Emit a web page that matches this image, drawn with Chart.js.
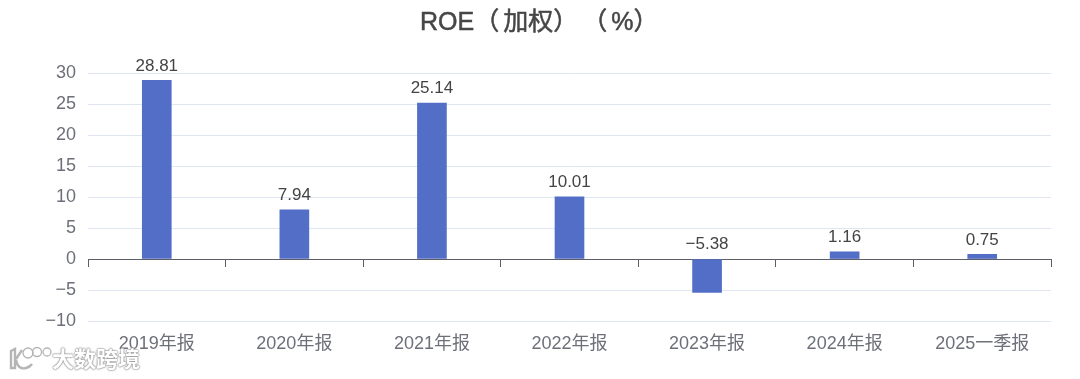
<!DOCTYPE html>
<html><head><meta charset="utf-8">
<style>
html,body{margin:0;padding:0;background:#fff;width:1080px;height:379px;overflow:hidden}
#w{position:relative;width:1080px;height:379px}
#wm{position:absolute;left:52px;top:342px;font:700 22px "Noto Sans CJK SC";color:#fff;line-height:30px;
text-shadow:0 0 1.5px #8a8a8a,0 0 1.5px #8a8a8a,0 0 2px #a8a8a8}
#lg{position:absolute;left:8px;top:346px}
</style>
<script src="https://cdn.jsdelivr.net/npm/chart.js@4/dist/chart.umd.min.js"></script>
</head><body><div id="w"><canvas id="c" width="1080" height="379"></canvas>
<svg id="lg" width="44" height="26" fill="none" stroke="#b5b5b5" stroke-width="1.3"><path d="M3 5 L7 3 L7 22 L3 22 Z M8 13 L14 4 M8 14 Q10 24 18 22 Q22 21 24 18" stroke-width="2.4"/><circle cx="20" cy="7" r="5"/><circle cx="29" cy="6" r="4.5"/><circle cx="39" cy="6" r="4"/></svg>
<div id="wm">大数跨境</div></div>
<script>
const categories=["2019年报","2020年报","2021年报","2022年报","2023年报","2024年报","2025一季报"];
const roeValues=[28.81,7.94,25.14,10.01,-5.38,1.16,0.75];
const titleText="ROE（加权）（%）";
const yMin=-10,yMax=30,yStep=5;
const FF='"Liberation Sans","Noto Sans CJK SC",sans-serif';
const minus=s=>String(s).replace('-','\u2212');
const chartTitle={id:'chartTitle',afterDraw(ch){
  const g=ch.ctx;g.save();g.font='25px '+FF;g.fillStyle='#464646';g.strokeStyle='#464646';g.lineWidth=0.5;
  g.textAlign='left';g.textBaseline='alphabetic';
  let x=420;for(const c of Array.from(titleText)){g.fillText(c,x,30);g.strokeText(c,x,30);x+=g.measureText(c).width+('（）'.includes(c)?4:0);}
  g.restore();}};
const valueLabels={id:'valueLabels',afterDatasetsDraw(ch){
  const g=ch.ctx,m=ch.getDatasetMeta(0),ys=ch.scales.y;
  g.save();g.font='17px '+FF;g.fillStyle='#444';g.textAlign='center';g.textBaseline='bottom';
  m.data.forEach((b,i)=>{const v=roeValues[i];
    g.fillText(minus(v.toFixed(2)),b.x,Math.min(ys.getPixelForValue(v),ys.getPixelForValue(0))-6);});
  g.restore();}};
new Chart(document.getElementById('c'),{type:'bar',
 data:{labels:categories,datasets:[{data:roeValues,backgroundColor:'#536ec6',barThickness:29,xAxisID:'x',yAxisID:'y'}]},
 options:{responsive:false,animation:false,devicePixelRatio:1,
  layout:{padding:{top:73,right:29,left:0,bottom:0}},
  plugins:{legend:{display:false},tooltip:{enabled:false},title:{display:false}},
  scales:{
   x:{type:'category',position:'bottom',grid:{display:false},border:{display:false},
      ticks:{color:'#6e7079',font:{family:FF,size:18},padding:4,maxRotation:0,autoSkip:false},
      afterFit(s){s.height=58;}},
   x2:{type:'category',labels:categories,position:{y:0},offset:true,
      grid:{offset:true,drawOnChartArea:false,drawTicks:true,tickLength:7,color:'#5c5f66',lineWidth:1},
      border:{display:true,color:'#5c5f66',width:1},
      ticks:{display:false}},
   y:{min:yMin,max:yMax,position:'left',
      grid:{color:'#e0e6f1',drawTicks:false,lineWidth:1},border:{display:false},
      ticks:{stepSize:yStep,color:'#6e7079',font:{family:FF,size:18},padding:12,callback:v=>minus(v)},
      afterFit(s){s.width=88;}}
  }},
 plugins:[valueLabels,chartTitle]});
</script></body></html>
